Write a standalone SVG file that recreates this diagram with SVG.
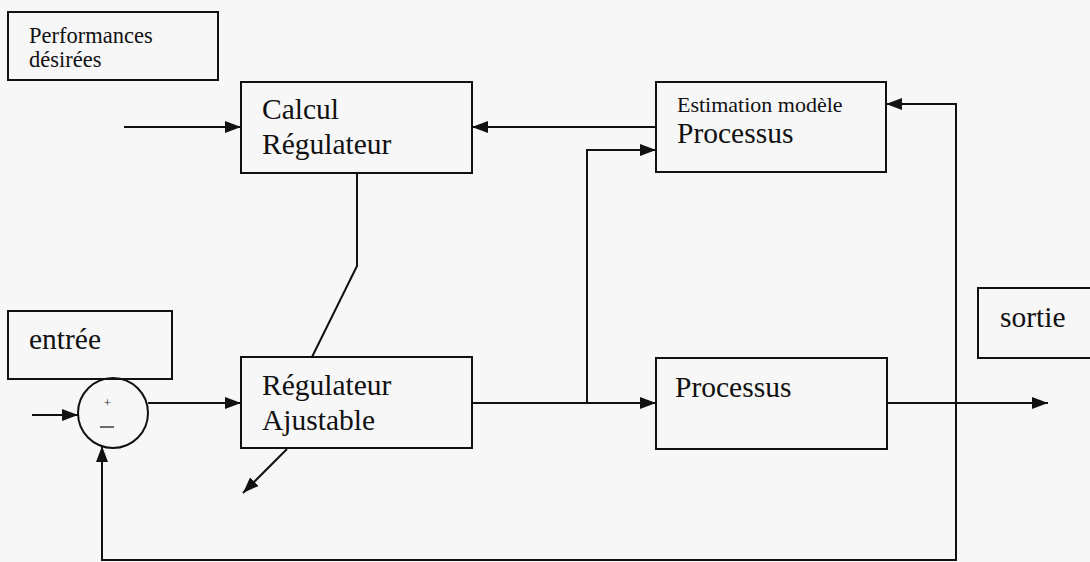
<svg xmlns="http://www.w3.org/2000/svg" width="1090" height="562" viewBox="0 0 1090 562">
<defs>
<marker id="ah" viewBox="0 0 16 12" refX="16" refY="6" markerWidth="16" markerHeight="12" markerUnits="userSpaceOnUse" orient="auto">
<path d="M0,0 L16,6 L0,12 Z" fill="#111"/>
</marker>
</defs>
<style>
.box{fill:none;stroke:#111;stroke-width:2}
.c{fill:none;stroke:#111;stroke-width:2}
.a{marker-end:url(#ah)}
.t{font-family:"Liberation Serif","Times New Roman",serif;fill:#111}
.big{font-size:29.5px}
.sm{font-size:22px}
.ps{font-size:22.5px}
</style>
<rect width="1090" height="562" fill="#f7f7f8"/>
<g id="performances">
<rect class="box" x="8" y="12" width="210" height="68"/>
<text class="t ps" x="29" y="43">Performances</text>
<text class="t ps" x="29" y="67">désirées</text>
</g>
<g id="calcul">
<rect class="box" x="241" y="82" width="231" height="91"/>
<text class="t big" x="262" y="119">Calcul</text>
<text class="t big" x="262" y="154">Régulateur</text>
</g>
<g id="estimation">
<rect class="box" x="656" y="82" width="230" height="90"/>
<text class="t sm" x="677" y="112">Estimation modèle</text>
<text class="t big" x="677" y="143">Processus</text>
</g>
<g id="entree">
<rect class="box" x="8" y="311" width="164" height="68"/>
<text class="t big" x="29" y="349">entrée</text>
</g>
<g id="sortie">
<rect class="box" x="978" y="288" width="120" height="70"/>
<text class="t big" x="1000" y="327">sortie</text>
</g>
<g id="comparateur">
<circle class="box" cx="113" cy="413" r="35"/>
<text class="t" x="104" y="407" font-size="12">+</text>
<line x1="100" y1="427" x2="114" y2="427" stroke="#111" stroke-width="1.2"/>
</g>
<g id="regulateur">
<rect class="box" x="241" y="357" width="231" height="91"/>
<text class="t big" x="262" y="395">Régulateur</text>
<text class="t big" x="262" y="430">Ajustable</text>
</g>
<g id="processus">
<rect class="box" x="656" y="358" width="231" height="91"/>
<text class="t big" x="675" y="397">Processus</text>
</g>
<g id="connectors">
<line class="c a" x1="124" y1="127" x2="241" y2="127"/>
<line class="c a" x1="656" y1="127" x2="472" y2="127"/>
<polyline class="c" points="357,173 357,266 312,357"/>
<line class="c a" x1="32" y1="415" x2="78" y2="415"/>
<line class="c a" x1="148" y1="403" x2="241" y2="403"/>
<line class="c a" x1="472" y1="403" x2="656" y2="403"/>
<polyline class="c a" points="587,403 587,150 656,150"/>
<line class="c a" x1="887" y1="403" x2="1048" y2="403"/>
<polyline class="c a" points="956,403 956,104 886,104"/>
<polyline class="c a" points="956,403 956,560 102,560 102,446"/>
<line class="c a" x1="287" y1="449" x2="243" y2="493"/>
</g>
</svg>
